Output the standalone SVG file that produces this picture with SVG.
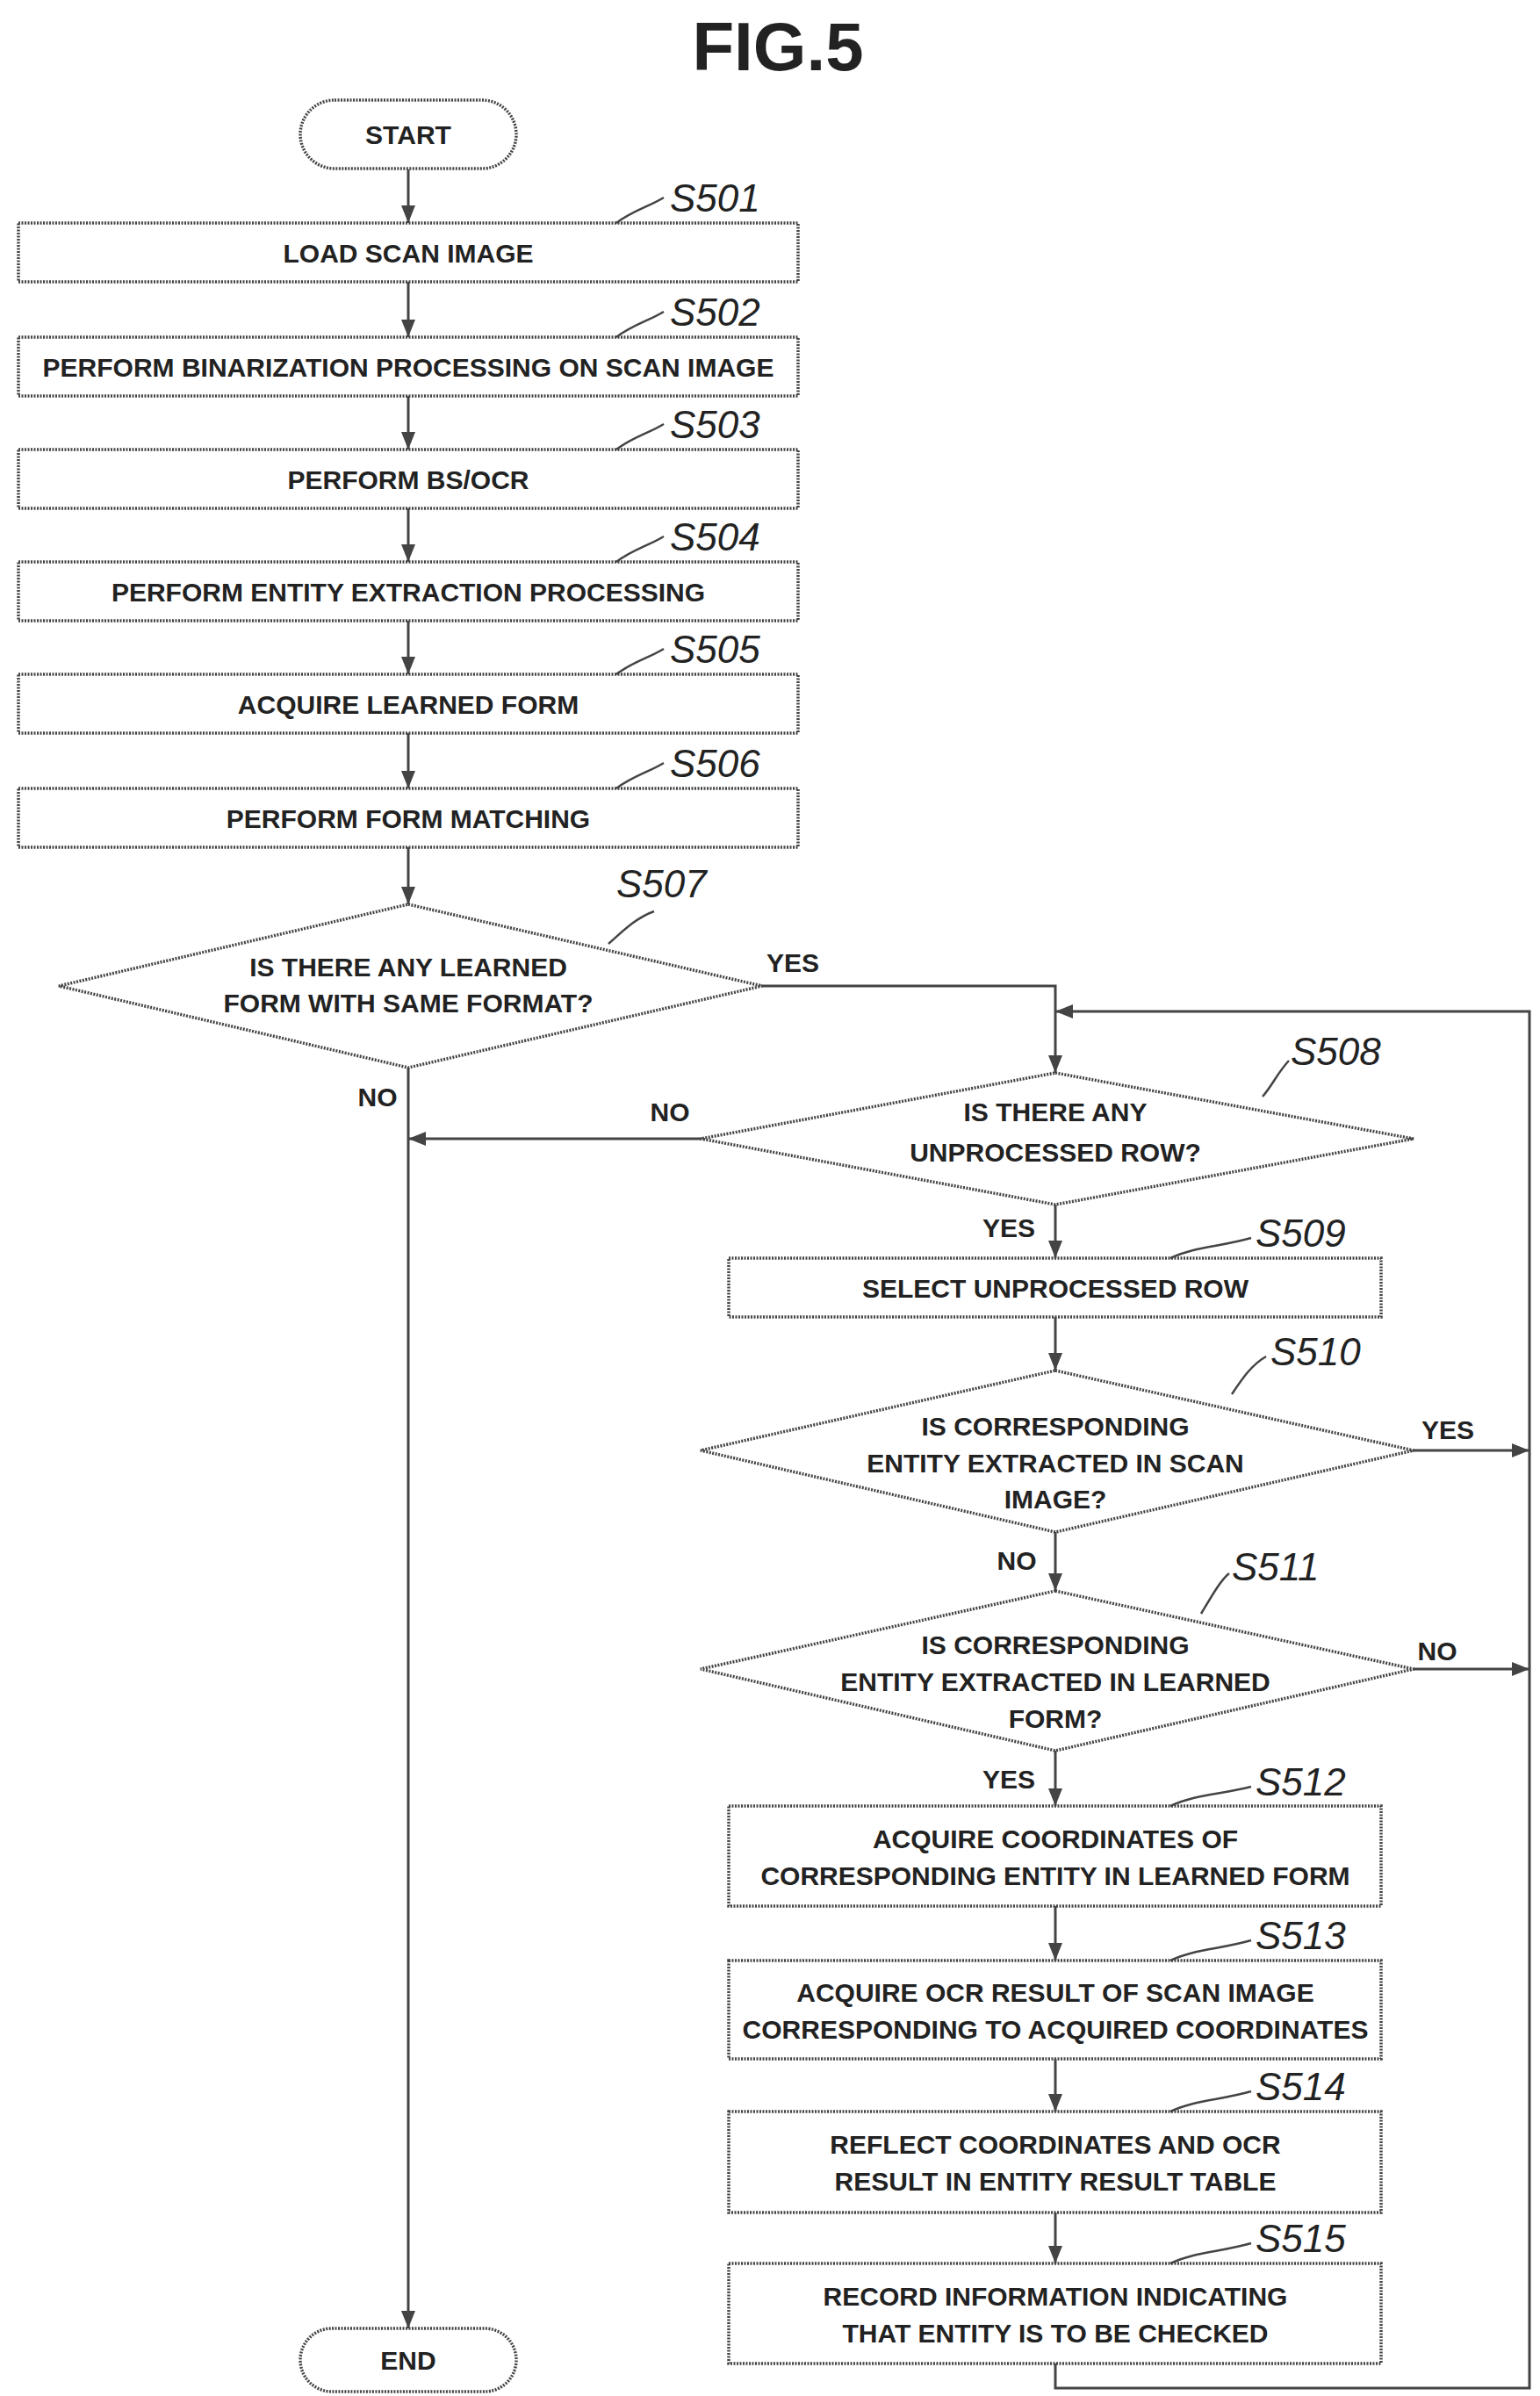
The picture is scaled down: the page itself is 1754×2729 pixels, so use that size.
<svg xmlns="http://www.w3.org/2000/svg" width="1754" height="2729" viewBox="0 0 1754 2729">
<style>
.b{fill:#fff;stroke:#444;stroke-width:3.5;stroke-dasharray:2 1.5}
.t{font-family:"Liberation Sans",Arial,sans-serif;font-weight:bold;font-size:30px;fill:#222;text-anchor:middle;dominant-baseline:central}
.s{font-family:"Liberation Sans",Arial,sans-serif;font-style:italic;font-size:44px;fill:#222}
.c{fill:none;stroke:#444;stroke-width:3}
.l{fill:none;stroke:#444;stroke-width:2.5}
</style>
<defs><marker id="m" viewBox="0 0 10 10" refX="10" refY="5" markerWidth="20" markerHeight="20" markerUnits="userSpaceOnUse" orient="auto"><path d="M0,1L10,5L0,9z" fill="#444"/></marker></defs>
<text x="886" y="80" font-family="Liberation Sans,Arial,sans-serif" font-weight="bold" font-size="78" text-anchor="middle" fill="#222">FIG.5</text>
<g id="connectors">
<path class="c" d="M465,193V254" marker-end="url(#m)"/>
<path class="c" d="M465,321V384" marker-end="url(#m)"/>
<path class="c" d="M465,451V512" marker-end="url(#m)"/>
<path class="c" d="M465,579V640" marker-end="url(#m)"/>
<path class="c" d="M465,707V768" marker-end="url(#m)"/>
<path class="c" d="M465,835V898" marker-end="url(#m)"/>
<path class="c" d="M465,965V1030" marker-end="url(#m)"/>
<path class="c" d="M465,1216V2652" marker-end="url(#m)"/>
<path class="c" d="M868,1123H1202V1222" marker-end="url(#m)"/>
<path class="c" d="M798,1297H465" marker-end="url(#m)"/>
<path class="c" d="M1202,1372V1433" marker-end="url(#m)"/>
<path class="c" d="M1202,1500V1561" marker-end="url(#m)"/>
<path class="c" d="M1610,1652H1742" marker-end="url(#m)"/>
<path class="c" d="M1202,1745V1812" marker-end="url(#m)"/>
<path class="c" d="M1610,1901H1742" marker-end="url(#m)"/>
<path class="c" d="M1202,1994V2057" marker-end="url(#m)"/>
<path class="c" d="M1202,2171V2233" marker-end="url(#m)"/>
<path class="c" d="M1202,2345V2405" marker-end="url(#m)"/>
<path class="c" d="M1202,2520V2578" marker-end="url(#m)"/>
<path class="c" d="M1202,2692V2720H1742V1152H1202" marker-end="url(#m)"/>
</g>
<g id="start"><rect class="b" x="342" y="114" width="246" height="78" rx="39"/><text class="t" x="465" y="153">START</text></g>
<g id="S501"><rect class="b" x="21" y="254" width="888" height="67"/><text class="t" x="465" y="288">LOAD SCAN IMAGE</text><path class="l" d="M702,254C720,240 740,235 756,225"/><text class="s" x="763" y="241">S501</text></g>
<g id="S502"><rect class="b" x="21" y="384" width="888" height="67"/><text class="t" x="465" y="418">PERFORM BINARIZATION PROCESSING ON SCAN IMAGE</text><path class="l" d="M702,384C720,370 740,365 756,355"/><text class="s" x="763" y="371">S502</text></g>
<g id="S503"><rect class="b" x="21" y="512" width="888" height="67"/><text class="t" x="465" y="546">PERFORM BS/OCR</text><path class="l" d="M702,512C720,498 740,493 756,483"/><text class="s" x="763" y="499">S503</text></g>
<g id="S504"><rect class="b" x="21" y="640" width="888" height="67"/><text class="t" x="465" y="674">PERFORM ENTITY EXTRACTION PROCESSING</text><path class="l" d="M702,640C720,626 740,621 756,611"/><text class="s" x="763" y="627">S504</text></g>
<g id="S505"><rect class="b" x="21" y="768" width="888" height="67"/><text class="t" x="465" y="802">ACQUIRE LEARNED FORM</text><path class="l" d="M702,768C720,754 740,749 756,739"/><text class="s" x="763" y="755">S505</text></g>
<g id="S506"><rect class="b" x="21" y="898" width="888" height="67"/><text class="t" x="465" y="932">PERFORM FORM MATCHING</text><path class="l" d="M702,898C720,884 740,879 756,869"/><text class="s" x="763" y="885">S506</text></g>
<g id="S507"><path class="b" d="M465,1030L868,1123L465,1216L67,1123z"/><text class="t" x="465" y="1101">IS THERE ANY LEARNED</text><text class="t" x="465" y="1142">FORM WITH SAME FORMAT?</text><path class="l" d="M693,1075C710,1060 725,1045 745,1038"/><text class="s" x="702" y="1022">S507</text><text class="t" x="903" y="1096">YES</text><text class="t" x="430" y="1249">NO</text></g>
<g id="S508"><path class="b" d="M1202,1222L1610,1297L1202,1372L798,1297z"/><text class="t" x="1202" y="1266">IS THERE ANY</text><text class="t" x="1202" y="1312">UNPROCESSED ROW?</text><path class="l" d="M1438,1249C1450,1235 1455,1222 1468,1208"/><text class="s" x="1470" y="1213">S508</text><text class="t" x="763" y="1266">NO</text><text class="t" x="1149" y="1398">YES</text></g>
<g id="S509"><rect class="b" x="830" y="1433" width="743" height="67"/><text class="t" x="1202" y="1467">SELECT UNPROCESSED ROW</text><path class="l" d="M1333,1433C1360,1420 1390,1420 1425,1410"/><text class="s" x="1430" y="1420">S509</text></g>
<g id="S510"><path class="b" d="M1202,1561L1610,1652L1202,1745L798,1652z"/><text class="t" x="1202" y="1624">IS CORRESPONDING</text><text class="t" x="1202" y="1666">ENTITY EXTRACTED IN SCAN</text><text class="t" x="1202" y="1707">IMAGE?</text><path class="l" d="M1403,1588C1415,1570 1425,1555 1442,1545"/><text class="s" x="1447" y="1555">S510</text><text class="t" x="1649" y="1628">YES</text><text class="t" x="1158" y="1777">NO</text></g>
<g id="S511"><path class="b" d="M1202,1812L1610,1901L1202,1994L798,1901z"/><text class="t" x="1202" y="1873">IS CORRESPONDING</text><text class="t" x="1202" y="1915">ENTITY EXTRACTED IN LEARNED</text><text class="t" x="1202" y="1957">FORM?</text><path class="l" d="M1368,1838C1380,1818 1390,1800 1400,1792"/><text class="s" x="1403" y="1800">S511</text><text class="t" x="1637" y="1880">NO</text><text class="t" x="1149" y="2026">YES</text></g>
<g id="S512"><rect class="b" x="830" y="2057" width="743" height="114"/><text class="t" x="1202" y="2094">ACQUIRE COORDINATES OF</text><text class="t" x="1202" y="2136">CORRESPONDING ENTITY IN LEARNED FORM</text><path class="l" d="M1333,2057C1360,2044 1390,2044 1425,2035"/><text class="s" x="1430" y="2045">S512</text></g>
<g id="S513"><rect class="b" x="830" y="2233" width="743" height="112"/><text class="t" x="1202" y="2269">ACQUIRE OCR RESULT OF SCAN IMAGE</text><text class="t" x="1202" y="2311">CORRESPONDING TO ACQUIRED COORDINATES</text><path class="l" d="M1333,2233C1360,2220 1390,2220 1425,2210"/><text class="s" x="1430" y="2220">S513</text></g>
<g id="S514"><rect class="b" x="830" y="2405" width="743" height="115"/><text class="t" x="1202" y="2442">REFLECT COORDINATES AND OCR</text><text class="t" x="1202" y="2484">RESULT IN ENTITY RESULT TABLE</text><path class="l" d="M1333,2405C1360,2392 1390,2392 1425,2382"/><text class="s" x="1430" y="2392">S514</text></g>
<g id="S515"><rect class="b" x="830" y="2578" width="743" height="114"/><text class="t" x="1202" y="2615">RECORD INFORMATION INDICATING</text><text class="t" x="1202" y="2657">THAT ENTITY IS TO BE CHECKED</text><path class="l" d="M1333,2578C1360,2565 1390,2565 1425,2555"/><text class="s" x="1430" y="2565">S515</text></g>
<g id="end"><rect class="b" x="342" y="2652" width="246" height="72" rx="36"/><text class="t" x="465" y="2688">END</text></g>
</svg>
